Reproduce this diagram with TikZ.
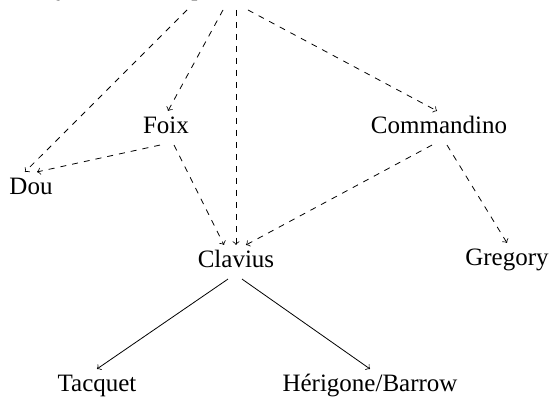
\documentclass[tikz,border=0pt]{standalone}
\usepackage{fontspec}
\setmainfont{Liberation Serif}
\usetikzlibrary{positioning}
\begin{document}
\begin{tikzpicture}[x=0.5pt, y=-0.5pt,
    every node/.style={font=\fontsize{12.5}{14}\selectfont, text height=8pt, text depth=2pt},
    infl/.style={->, dashed},
    desc/.style={->}]
    \useasboundingbox (0,0) rectangle (552,410);
    \clip (0,0) rectangle (552,410);

    % --- source line, cut by the top edge ---
    \node[anchor=base west, inner sep=0pt] (src) at (14,-4.5)
        {Early versions of printed Greek and Latin editions of Euclid as archetype of};
    \coordinate (o1) at (187,10);
    \coordinate (o2) at (223,10);
    \coordinate (o3) at (236,10);
    \coordinate (o4) at (248,10);

    % --- editors ---
    \node (dou) at (31,189) {Dou};
    \node (foix) at (166,128) {Foix};
    \node (commandino) at (439,128) {Commandino};
    \node (clavius) at (236,262) {Clavius};
    \node (gregory) at (507,260) {Gregory};
    \node (tacquet) at (97,386) {Tacquet};
    \node (herigone) at (370,386) {Hérigone/Barrow};

    % --- dashed influences ---
    \draw[infl] (o1) -- ([xshift=-3pt]dou.north);
    \draw[infl] (o2) -- ([xshift=1pt]foix.north);
    \draw[infl] (o3) -- (clavius.north);
    \draw[infl] (o4) -- ([xshift=-1pt]commandino.north);
    \draw[infl] ([xshift=-3pt]foix.south) -- ([xshift=3pt]dou.north);
    \draw[infl] ([xshift=4pt]foix.south) -- ([xshift=-6pt]clavius.north);
    \draw[infl] ([xshift=-3.5pt]commandino.south) -- ([xshift=5pt]clavius.north);
    \draw[infl] ([xshift=4pt]commandino.south) -- (gregory.north);

    % --- solid descent from Clavius ---
    \draw[desc] ([xshift=-4pt]clavius.south) -- (tacquet.north);
    \draw[desc] ([xshift=3pt]clavius.south) -- (herigone.north);
\end{tikzpicture}
\end{document}
